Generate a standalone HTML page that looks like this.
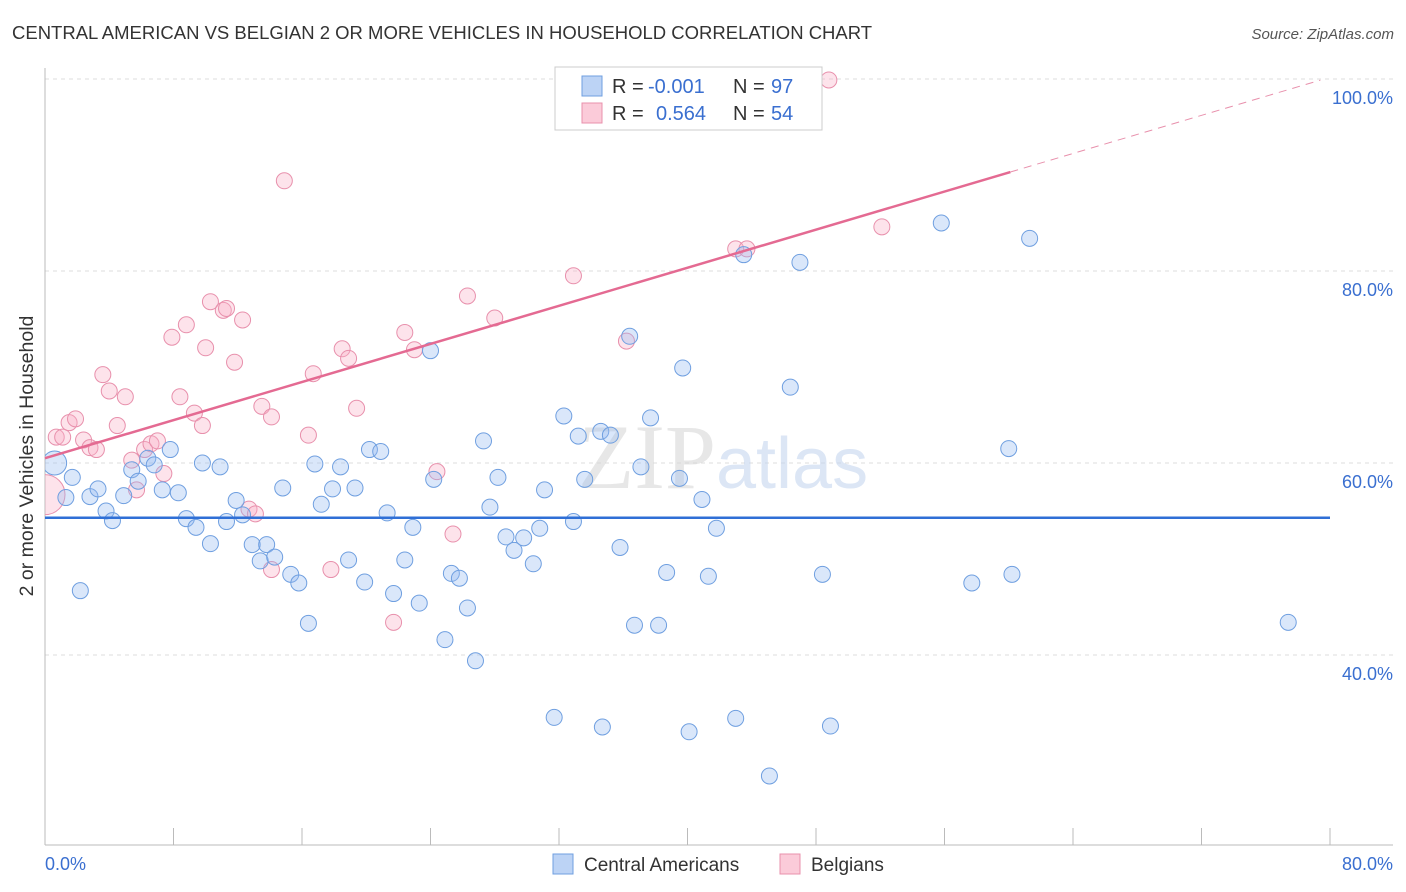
<!DOCTYPE html>
<html><head><meta charset="utf-8"><style>
body{margin:0;background:#fff;font-family:"Liberation Sans",sans-serif;}
svg{display:block}
</style></head><body>
<svg id="chart" width="1406" height="892">
<defs><clipPath id="plotclip"><rect x="45" y="60" width="1360" height="785"/></clipPath></defs>
<text x="12" y="39" font-size="18.5" fill="#333">CENTRAL AMERICAN VS BELGIAN 2 OR MORE VEHICLES IN HOUSEHOLD CORRELATION CHART</text>
<text x="1394" y="39" font-size="15" fill="#555" font-style="italic" text-anchor="end">Source: ZipAtlas.com</text>
<g id="grid"></g>
<text x="716" y="488" font-size="92" fill="#d8d8d8" text-anchor="end" font-family="Liberation Serif,serif" opacity="0.6">ZIP</text>
<text x="716" y="488" font-size="72" fill="#c5d6ef" opacity="0.6">atlas</text>
<g id="points" clip-path="url(#plotclip)"></g>
<g id="trends"></g>
<text x="33" y="456" font-size="19.5" fill="#333" text-anchor="middle" transform="rotate(-90 33 456)">2 or more Vehicles in Household</text>
<g>
<rect x="555" y="67" width="267" height="63" fill="#fff" stroke="#ccc"/>
<rect x="582" y="76" width="20" height="20" fill="#bcd3f5" stroke="#6f9fe0"/>
<rect x="582" y="103" width="20" height="20" fill="#fbcbd9" stroke="#e890ac"/>
<text x="612" y="93" font-size="20" fill="#333">R =</text>
<text x="648" y="93" font-size="20" fill="#3a6fd0">-0.001</text>
<text x="733" y="93" font-size="20" fill="#333">N =</text>
<text x="771" y="93" font-size="20" fill="#3a6fd0">97</text>
<text x="612" y="120" font-size="20" fill="#333">R =</text>
<text x="656" y="120" font-size="20" fill="#3a6fd0">0.564</text>
<text x="733" y="120" font-size="20" fill="#333">N =</text>
<text x="771" y="120" font-size="20" fill="#3a6fd0">54</text>
</g>
<g>
<rect x="553" y="854" width="20" height="20" fill="#bcd3f5" stroke="#6f9fe0"/>
<text x="584" y="871" font-size="19" fill="#333">Central Americans</text>
<rect x="780" y="854" width="20" height="20" fill="#fbcbd9" stroke="#e890ac"/>
<text x="811" y="871" font-size="19" fill="#333">Belgians</text>
</g>
</svg>
<script>
const blueX=[0.6,1.7,1.3,2.8,3.3,3.8,4.2,4.9,5.4,5.8,6.4,6.8,7.3,7.8,8.3,8.8,9.4,9.8,10.3,10.9,11.3,11.9,12.3,12.9,13.4,13.8,14.3,14.8,15.3,15.8,16.4,16.8,17.2,17.9,18.4,18.9,19.3,19.9,20.2,20.9,21.3,21.7,22.4,22.9,23.3,24.0,24.2,24.9,25.3,25.8,26.3,26.8,27.3,27.7,28.2,28.7,29.2,29.8,30.4,30.8,31.1,31.7,32.3,32.9,33.2,33.6,34.6,34.7,35.2,35.8,36.4,36.7,37.1,37.7,38.2,38.7,39.5,39.7,40.1,40.9,41.3,41.8,43.0,43.5,45.1,46.4,47.0,48.4,48.9,55.8,57.7,60.0,60.2,61.3,77.4,2.2];
const blueY=[60.0,58.5,56.4,56.5,57.3,55.0,54.0,56.6,59.3,58.1,60.5,59.8,57.2,61.4,56.9,54.2,53.3,60.0,51.6,59.6,53.9,56.1,54.6,51.5,49.8,51.5,50.2,57.4,48.4,47.5,43.3,59.9,55.7,57.3,59.6,49.9,57.4,47.6,61.4,61.2,54.8,46.4,49.9,53.3,45.4,71.7,58.3,41.6,48.5,48.0,44.9,39.4,62.3,55.4,58.5,52.3,50.9,52.2,49.5,53.2,57.2,33.5,64.9,53.9,62.8,58.3,63.3,32.5,62.9,51.2,73.2,43.1,59.6,64.7,43.1,48.6,58.4,69.9,32.0,56.2,48.2,53.2,33.4,81.7,27.4,67.9,80.9,48.4,32.6,85.0,47.5,61.5,48.4,83.4,43.4,46.7];
const pinkX=[0.0,0.7,1.1,1.5,1.9,2.4,2.8,3.2,3.6,4.0,4.5,5.0,5.4,5.7,6.2,6.6,7.0,7.4,7.9,8.4,8.8,9.3,9.8,10.0,10.3,11.1,11.3,11.8,12.3,12.7,13.1,13.5,14.1,14.1,14.9,16.4,16.7,17.8,18.5,18.9,19.4,21.7,22.4,23.0,24.4,25.4,26.3,28.0,32.9,36.2,43.0,43.7,48.8,52.1];
const pinkY=[56.7,62.7,62.7,64.2,64.6,62.4,61.6,61.4,69.2,67.5,63.9,66.9,60.3,57.2,61.4,62.0,62.3,58.9,73.1,66.9,74.4,65.2,63.9,72.0,76.8,75.9,76.1,70.5,74.9,55.2,54.7,65.9,64.8,48.9,89.4,62.9,69.3,48.9,71.9,70.9,65.7,43.4,73.6,71.8,59.1,52.6,77.4,75.1,79.5,72.7,82.3,82.3,99.9,84.6];
const blueTrend=[54.3,0.0];   // intercept, slope
const pinkTrend=[60.5,0.496];
const pinkSolidEnd=60.1, dashEnd=79.4, blueEnd=80;
const xTicks=[0,8,16,24,32,40,48,56,64,72,80];
const yGrid=[40,60,80,100];
const yLabels=["40.0%","60.0%","80.0%","100.0%"];

const NS="http://www.w3.org/2000/svg";
const X=v=>45+v*(1285/80);
const Y=v=>79+(100-v)*9.6;
function mk(tag,attrs,parent){const e=document.createElementNS(NS,tag);for(const k in attrs)e.setAttribute(k,attrs[k]);parent.appendChild(e);return e;}
const grid=document.getElementById('grid');
yGrid.forEach((v,i)=>{
  const l=mk('line',{x1:45,x2:1393,y1:Y(v),y2:Y(v),stroke:'#ddd','stroke-dasharray':'4,4'},grid);
  
  
  const t=mk('text',{x:1393,y:Y(v)+25,'font-size':18,fill:'#3a6fd0','text-anchor':'end'},grid);
  t.textContent=yLabels[i];
  
  
});
const ax=mk('line',{x1:45,x2:45,y1:68,y2:845,stroke:'#bbb'},grid);


const bx=mk('line',{x1:45,x2:1393,y1:845,y2:845,stroke:'#bbb'},grid);


xTicks.forEach(v=>{
  const t=mk('line',{x1:X(v),x2:X(v),y1:828,y2:845,stroke:'#bbb'},grid);
  
  
});
const xl0=mk('text',{x:45,y:870,'font-size':18,fill:'#3a6fd0'},grid);xl0.textContent=xTicks[0].toFixed(1)+'%';


const xl1=mk('text',{x:1393,y:870,'font-size':18,fill:'#3a6fd0','text-anchor':'end'},grid);xl1.textContent=xTicks[xTicks.length-1].toFixed(1)+'%';



const pts=document.getElementById('points');
pinkX.forEach((v,i)=>{
  const c=mk('circle',{cx:X(v),cy:Y(pinkY[i]),r:i===0?20:8,fill:'rgba(248,176,198,0.35)',stroke:'#e890ac','stroke-width':1},pts);
  
  
});
blueX.forEach((v,i)=>{
  const c=mk('circle',{cx:X(v),cy:Y(blueY[i]),r:i===0?12:8,fill:'rgba(150,185,240,0.35)',stroke:'#6f9fe0','stroke-width':1},pts);
  
  
});
const tr=document.getElementById('trends');
const bl=mk('line',{x1:X(0),x2:X(blueEnd),y1:Y(blueTrend[0]),y2:Y(blueTrend[0]+blueTrend[1]*blueEnd),stroke:'#2f6fd6','stroke-width':2.5},tr);


const pl=mk('line',{x1:X(0),x2:X(pinkSolidEnd),y1:Y(pinkTrend[0]),y2:Y(pinkTrend[0]+pinkTrend[1]*pinkSolidEnd),stroke:'#e46a92','stroke-width':2.5},tr);


const pd=mk('line',{x1:X(pinkSolidEnd),x2:X(dashEnd),y1:Y(pinkTrend[0]+pinkTrend[1]*pinkSolidEnd),y2:Y(pinkTrend[0]+pinkTrend[1]*dashEnd),stroke:'#e890ac','stroke-width':1,'stroke-dasharray':'8,6'},tr);


</script>
</body></html>
